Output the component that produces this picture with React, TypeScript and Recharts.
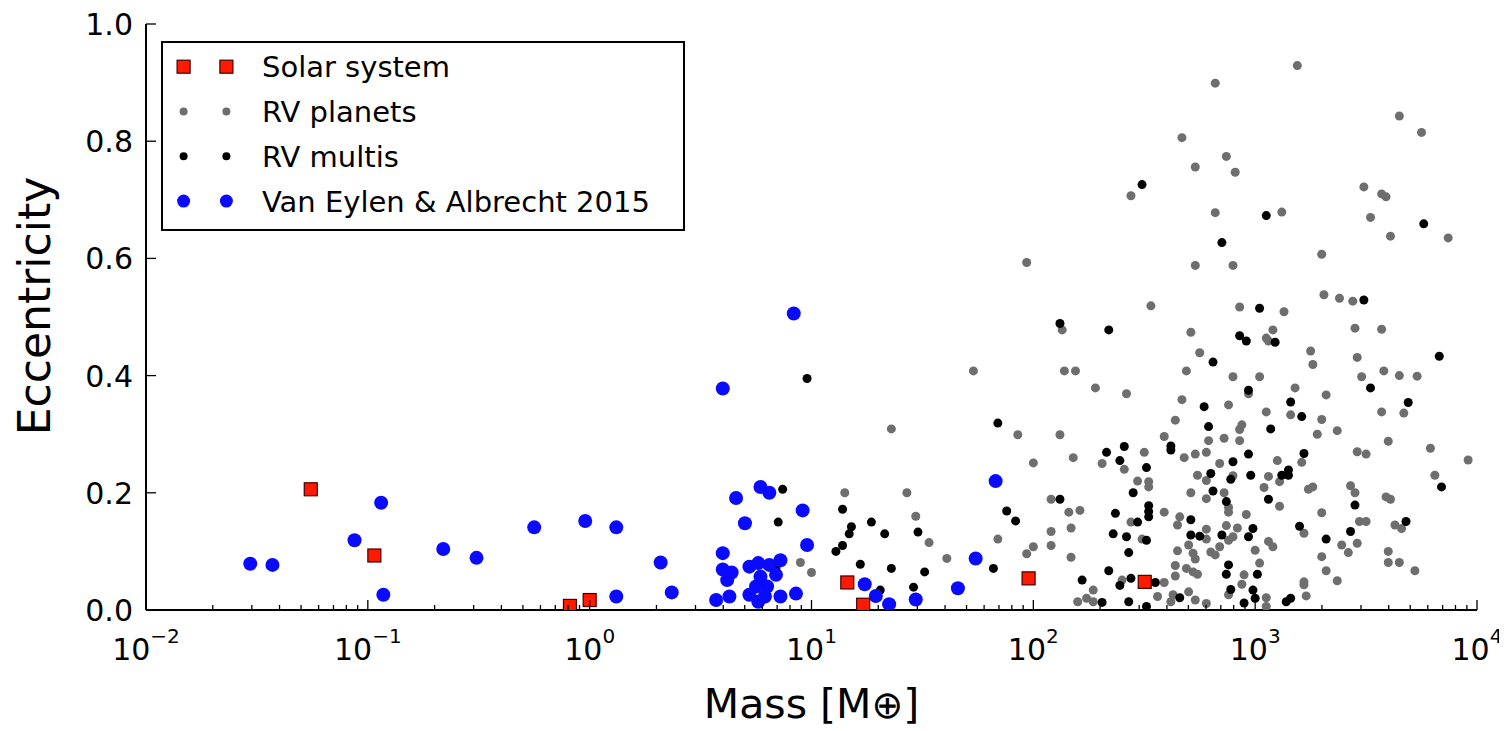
import { ScatterChart, Scatter, XAxis, YAxis } from "recharts"

// Solar system planets: mass [M_earth] and eccentricity
const solarMass = [0.0553, 0.815, 1.0, 0.107, 317.8, 95.2, 14.5, 17.1]
const solarEcc = [0.206, 0.007, 0.017, 0.093, 0.048, 0.054, 0.047, 0.009]

// as [log10 mass, eccentricity]
const rvPlanets: [number, number][] = [
  [1.36, 0.309], [1.15, 0.2], [1.43, 0.2], [1.47, 0.16], [1.53, 0.115], [1.61, 0.088], [0.95, 0.081], [1.0, 0.064],
  [1.73, 0.408], [1.93, 0.299], [2.12, 0.299], [2.0, 0.251], [2.18, 0.26], [2.28, 0.379], [2.14, 0.408], [2.19, 0.408],
  [2.13, 0.478], [1.84, 0.121], [2.08, 0.189], [2.16, 0.167], [2.21, 0.17], [2.08, 0.134], [2.17, 0.14], [2.08, 0.11],
  [2.0, 0.108], [1.97, 0.096], [2.17, 0.09], [2.27, 0.034], [2.2, 0.014], [2.24, 0.02], [2.27, 0.014],
  [1.97, 0.593], [3.19, 0.929], [2.82, 0.899], [2.67, 0.806], [2.87, 0.774], [2.73, 0.756], [2.91, 0.747], [2.44, 0.707],
  [2.82, 0.678], [3.12, 0.679], [2.73, 0.588], [2.9, 0.588], [3.65, 0.843], [3.75, 0.815], [3.49, 0.722], [3.57, 0.71],
  [3.59, 0.705], [3.52, 0.67], [3.61, 0.638], [3.87, 0.635], [3.3, 0.607], [3.31, 0.538], [3.38, 0.532], [3.44, 0.527],
  [2.53, 0.519], [2.93, 0.517], [3.13, 0.509], [2.71, 0.474], [3.45, 0.481], [3.57, 0.479], [3.05, 0.464], [3.06, 0.459],
  [3.08, 0.478], [2.75, 0.439], [3.25, 0.442], [3.26, 0.419], [3.46, 0.431], [2.69, 0.408], [2.9, 0.398], [3.02, 0.398],
  [3.48, 0.398], [3.58, 0.408], [3.65, 0.4], [3.73, 0.399], [2.42, 0.369], [2.67, 0.359], [2.97, 0.369], [3.18, 0.379],
  [3.32, 0.367], [2.88, 0.35],
  [2.64, 0.324], [2.94, 0.316], [2.93, 0.308], [2.59, 0.296], [2.31, 0.25], [2.41, 0.24], [2.5, 0.269], [2.68, 0.26],
  [2.73, 0.266], [2.78, 0.269], [2.79, 0.289], [2.86, 0.293], [2.93, 0.289], [2.84, 0.25], [2.74, 0.23], [2.78, 0.221],
  [2.9, 0.229], [2.47, 0.22], [2.52, 0.219], [2.52, 0.21], [2.71, 0.2], [2.78, 0.19], [2.86, 0.2], [2.88, 0.175],
  [2.88, 0.167], [2.59, 0.167], [2.44, 0.15], [2.66, 0.159], [2.65, 0.145], [2.78, 0.138], [2.87, 0.144], [2.92, 0.14],
  [2.96, 0.163], [2.49, 0.121], [2.78, 0.121], [2.7, 0.111], [2.72, 0.097], [2.73, 0.087], [2.65, 0.101], [2.8, 0.099],
  [2.82, 0.094], [2.84, 0.108], [2.88, 0.119], [2.9, 0.125], [3.0, 0.102], [2.64, 0.076], [2.64, 0.058], [2.69, 0.071],
  [2.72, 0.065], [2.74, 0.061], [2.95, 0.06], [2.4, 0.051], [2.59, 0.047], [2.56, 0.023], [2.7, 0.031], [2.73, 0.017],
  [2.63, 0.026], [2.62, 0.014], [2.78, 0.011], [2.88, 0.026], [2.94, 0.044],
  [3.05, 0.338], [3.16, 0.333], [3.3, 0.325], [3.57, 0.338], [3.67, 0.336], [3.28, 0.3], [3.37, 0.306], [3.6, 0.288],
  [3.79, 0.276], [3.96, 0.256], [3.46, 0.27], [3.5, 0.266], [3.1, 0.255], [3.21, 0.252], [3.06, 0.228], [3.11, 0.219],
  [3.04, 0.209], [3.24, 0.206], [3.26, 0.21], [3.43, 0.212], [3.45, 0.2], [3.81, 0.23], [3.11, 0.177], [3.59, 0.193],
  [3.61, 0.189], [3.3, 0.166], [3.47, 0.151], [3.5, 0.151], [3.63, 0.145], [3.66, 0.139], [3.22, 0.131], [3.06, 0.117],
  [3.08, 0.108], [3.39, 0.111], [3.42, 0.098], [3.46, 0.114], [3.6, 0.1], [3.6, 0.081], [3.65, 0.081], [3.72, 0.067],
  [3.3, 0.091], [3.02, 0.08], [3.32, 0.067], [3.37, 0.05], [3.22, 0.048], [3.22, 0.043], [3.23, 0.024], [3.05, 0.021],
  [3.05, 0.006],
]

const rvMultis: [number, number][] = [
  [0.98, 0.395], [0.87, 0.206], [0.85, 0.15], [1.14, 0.172], [1.18, 0.142], [1.17, 0.13], [1.27, 0.15], [1.14, 0.11],
  [1.11, 0.1], [1.33, 0.13], [1.48, 0.133], [1.22, 0.078], [1.36, 0.071], [1.51, 0.065], [1.31, 0.034], [1.46, 0.039],
  [1.84, 0.319], [1.88, 0.169], [1.92, 0.152], [1.82, 0.071], [2.12, 0.489], [2.12, 0.189], [2.22, 0.051], [0.84, 0.072],
  [2.49, 0.726], [3.05, 0.673], [2.85, 0.627], [3.76, 0.659], [3.49, 0.529],
  [3.02, 0.515], [2.34, 0.478], [2.93, 0.468], [2.96, 0.459], [3.09, 0.457], [2.81, 0.423], [3.83, 0.433], [2.97, 0.375],
  [3.52, 0.379], [3.16, 0.355], [3.69, 0.354], [2.77, 0.347],
  [2.79, 0.313], [2.62, 0.28], [2.62, 0.273], [2.41, 0.279], [2.33, 0.269], [2.39, 0.255], [2.51, 0.243], [2.97, 0.266],
  [2.9, 0.253], [2.98, 0.23], [2.8, 0.233], [2.89, 0.223], [2.45, 0.2], [2.81, 0.203], [2.87, 0.185], [2.52, 0.178],
  [2.52, 0.168], [2.52, 0.159], [2.37, 0.165], [2.47, 0.15], [2.71, 0.154], [2.99, 0.139], [2.97, 0.125], [2.36, 0.13],
  [2.42, 0.125], [2.51, 0.119], [2.43, 0.098], [2.71, 0.128], [2.75, 0.126], [2.85, 0.128], [2.88, 0.077], [2.87, 0.061],
  [3.01, 0.061], [2.34, 0.067], [2.39, 0.042], [2.44, 0.054], [2.55, 0.047], [2.66, 0.021], [2.89, 0.035], [2.95, 0.012],
  [3.0, 0.02], [2.99, 0.034], [2.31, 0.013], [2.43, 0.014], [2.51, 0.006],
  [3.21, 0.33], [3.07, 0.309], [3.22, 0.267], [3.12, 0.23], [3.15, 0.239], [3.15, 0.23], [3.84, 0.21], [3.06, 0.189],
  [3.45, 0.179], [3.68, 0.151], [3.2, 0.143], [3.43, 0.134], [3.32, 0.121], [3.14, 0.014], [3.16, 0.02],
]

const vanEylen: [number, number][] = [
  [-1.53, 0.079], [-1.43, 0.077], [-1.06, 0.119], [-0.94, 0.183], [-0.93, 0.026], [-0.66, 0.104], [-0.51, 0.089],
  [-0.25, 0.141], [-0.02, 0.152], [0.12, 0.141], [0.12, 0.023], [0.32, 0.081], [0.37, 0.03],
  [0.92, 0.506], [0.6, 0.378], [0.66, 0.191], [0.77, 0.21], [0.81, 0.2], [0.96, 0.17], [0.7, 0.148], [0.98, 0.111],
  [0.6, 0.097], [0.6, 0.069], [0.64, 0.064], [0.62, 0.051], [0.72, 0.074], [0.76, 0.08], [0.81, 0.077], [0.86, 0.085],
  [0.77, 0.057], [0.84, 0.06], [0.8, 0.04], [0.75, 0.04], [0.72, 0.026], [0.79, 0.023], [0.86, 0.023], [0.57, 0.017],
  [0.63, 0.023], [0.93, 0.028], [0.76, 0.014], [1.24, 0.044], [1.29, 0.024], [1.35, 0.01], [1.47, 0.018], [1.66, 0.037],
  [1.74, 0.088], [1.83, 0.22],
]

const massDecades = [0.01, 0.1, 1, 10, 100, 1000, 10000]
const minorSteps = [1, 2, 3, 4, 5, 6, 7, 8, 9]
const massTicks = massDecades.flatMap((d, i) => (i < massDecades.length - 1 ? minorSteps.map((k) => k * d) : [d]))
const eccTicks = [0, 0.2, 0.4, 0.6, 0.8, 1.0]

const fromLog = (arr: [number, number][]) => arr.map(([lm, e]) => ({ x: Math.pow(10, lm), y: e }))
const solarData = solarMass.map((m, i) => ({ x: m, y: solarEcc[i] }))

const isMajor = (v: number) => {
  const l = Math.log10(v)
  return Math.abs(l - Math.round(l)) < 1e-6
}

function BottomTick({ x, y, payload }: any) {
  const v = payload.value
  const major = isMajor(v)
  const p = Math.round(Math.log10(v))
  return (
    <g>
      <line x1={x} x2={x} y1={y} y2={y - (major ? 10 : 5)} stroke="#000" strokeWidth={1.3} />
      {major && (
        <text x={x} y={y + 50} textAnchor="middle" fontSize={30} fill="#000">
          10<tspan dy={-17} fontSize={20}>{p < 0 ? "\u2212" + -p : String(p)}</tspan>
        </text>
      )}
    </g>
  )
}

function TopTick({ x, y, payload }: any) {
  const major = isMajor(payload.value)
  return <line x1={x} x2={x} y1={y} y2={y + (major ? 10 : 5)} stroke="#000" strokeWidth={1.3} />
}

function LeftTick({ x, y, payload }: any) {
  return (
    <g>
      <line x1={x} x2={x + 10} y1={y} y2={y} stroke="#000" strokeWidth={1.3} />
      <text x={x - 13} y={y + 11} textAnchor="end" fontSize={30} fill="#000">
        {Number(payload.value).toFixed(1)}
      </text>
    </g>
  )
}

function RightTick({ x, y }: any) {
  return <line x1={x} x2={x - 10} y1={y} y2={y} stroke="#000" strokeWidth={1.3} />
}

const grayDot = (p: any) => <circle cx={p.cx} cy={p.cy} r={4.5} fill="#6e6e6e" />
const blackDot = (p: any) => <circle cx={p.cx} cy={p.cy} r={4.5} fill="#000" />
const blueDot = (p: any) => <circle cx={p.cx} cy={p.cy} r={7} fill="#0a0aff" />
const redSquare = (p: any) => (
  <rect x={p.cx - 6.5} y={p.cy - 6.5} width={13} height={13} fill="#ff1a00" stroke="#400" strokeWidth={1.2} />
)

const legendRows = [
  { label: "Solar system", kind: "square" },
  { label: "RV planets", kind: "gray" },
  { label: "RV multis", kind: "black" },
  { label: "Van Eylen & Albrecht 2015", kind: "blue" },
]

function LegendMarker({ kind, cx, cy }: { kind: string; cx: number; cy: number }) {
  if (kind === "square")
    return <rect x={cx - 6.5} y={cy - 6.5} width={13} height={13} fill="#ff1a00" stroke="#400" strokeWidth={1.2} />
  if (kind === "gray") return <circle cx={cx} cy={cy} r={4} fill="#6e6e6e" />
  if (kind === "black") return <circle cx={cx} cy={cy} r={4} fill="#000" />
  return <circle cx={cx} cy={cy} r={6.5} fill="#0a0aff" />
}

const W = 1499
const H = 723

export default function App() {
  return (
    <div style={{ position: "relative", width: W, height: H, fontFamily: "'DejaVu Sans', sans-serif", background: "#fff" }}>
      <ScatterChart width={W} height={H} margin={{ top: 16, right: 30, bottom: 0, left: 0 }}>
        <XAxis
          xAxisId="b"
          type="number"
          dataKey="x"
          scale="log"
          domain={[0.01, 10000]}
          allowDataOverflow
          ticks={massTicks}
          interval={0}
          height={121}
          tickSize={0}
          tickMargin={0}
          tick={<BottomTick />}
          axisLine={{ stroke: "#000", strokeWidth: 2 }}
        />
        <XAxis
          xAxisId="t"
          orientation="top"
          type="number"
          dataKey="x"
          scale="log"
          domain={[0.01, 10000]}
          allowDataOverflow
          ticks={massTicks}
          interval={0}
          height={0}
          tickSize={0}
          tickMargin={0}
          tick={<TopTick />}
          axisLine={{ stroke: "#000", strokeWidth: 2 }}
        />
        <YAxis
          yAxisId="l"
          type="number"
          dataKey="y"
          domain={[0, 1]}
          allowDataOverflow
          ticks={eccTicks}
          interval={0}
          width={138}
          tickSize={0}
          tickMargin={0}
          tick={<LeftTick />}
          axisLine={{ stroke: "#000", strokeWidth: 2 }}
        />
        <YAxis
          yAxisId="r"
          orientation="right"
          type="number"
          dataKey="y"
          domain={[0, 1]}
          allowDataOverflow
          ticks={eccTicks}
          interval={0}
          width={0}
          tickSize={0}
          tickMargin={0}
          tick={<RightTick />}
          axisLine={{ stroke: "#000", strokeWidth: 2 }}
        />
        <Scatter name="RV planets" data={fromLog(rvPlanets)} xAxisId="b" yAxisId="l" shape={grayDot} isAnimationActive={false} />
        <Scatter name="RV multis" data={fromLog(rvMultis)} xAxisId="b" yAxisId="l" shape={blackDot} isAnimationActive={false} />
        <Scatter name="Van Eylen & Albrecht 2015" data={fromLog(vanEylen)} xAxisId="b" yAxisId="l" shape={blueDot} isAnimationActive={false} />
        <Scatter name="Solar system" data={solarData} xAxisId="b" yAxisId="l" shape={redSquare} isAnimationActive={false} />
      </ScatterChart>

      {/* axis titles and legend box */}
      <svg width={W} height={H} style={{ position: "absolute", left: 0, top: 0, pointerEvents: "none", overflow: "visible" }}>
        <text x={803.5} y={710} textAnchor="middle" fontSize={41} fill="#000">
          Mass [M<tspan fontSize={38}>{"\u2295"}</tspan>]
        </text>
        <text x={42} y={298} textAnchor="middle" fontSize={44} fill="#000" transform="rotate(-90 42 298)">
          Eccentricity
        </text>
        <g transform="translate(154,34)">
          <rect x={0} y={0} width={522} height={188} fill="#fff" stroke="#000" strokeWidth={2} />
          {legendRows.map((r, i) => {
            const cy = 24.7 + i * 44.8
            return (
              <g key={r.label}>
                <LegendMarker kind={r.kind} cx={21.6} cy={cy} />
                <LegendMarker kind={r.kind} cx={64.4} cy={cy} />
                <text x={100} y={cy + 10.5} fontSize={29} fill="#000">
                  {r.label}
                </text>
              </g>
            )
          })}
        </g>
      </svg>
    </div>
  )
}
